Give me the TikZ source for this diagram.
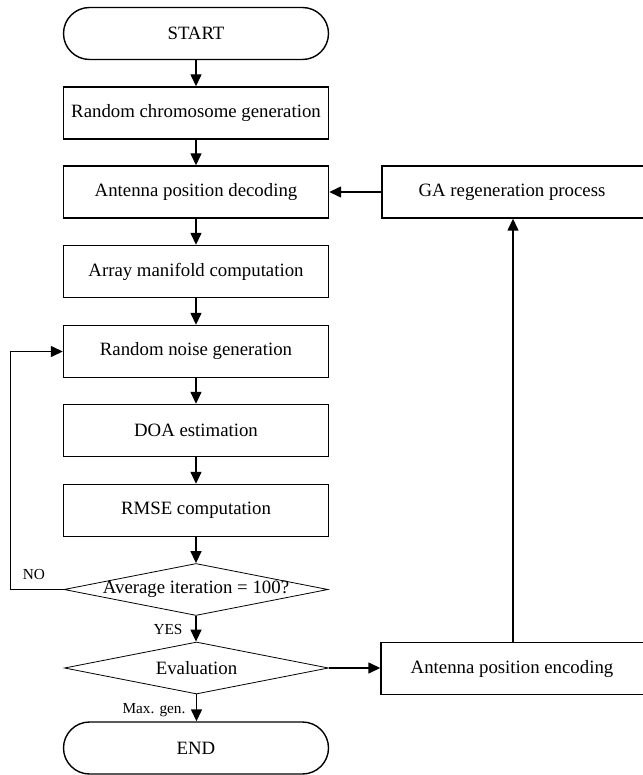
\documentclass[tikz,border=0pt]{standalone}
\usepackage{fontspec}
\setmainfont{Liberation Serif}
\usetikzlibrary{arrows.meta,shapes.geometric}
\begin{document}
\begin{tikzpicture}[x=1pt,y=-1pt,
  txtfont/.style={font=\fontsize{18.8}{22}\selectfont},
  box/.style={draw,line width=1.4pt,minimum width=265pt,minimum height=52pt,inner sep=0pt,txtfont},
  pill/.style={box,rounded corners=26pt},
  dia/.style={draw,line width=0.8pt,diamond,minimum width=264pt,minimum height=52pt,inner sep=0pt},
  diatext/.style={inner sep=0pt,txtfont},
  arr/.style={line width=1.4pt,-{Triangle[length=12pt,width=11pt]}},
  lab/.style={inner sep=0pt,font=\fontsize{15.3}{18}\selectfont}]
\useasboundingbox (0,0) rectangle (642,775);
\node[pill] (start) at (196,33.5) {START};
\node[box] (b1) at (196,113) {Random chromosome generation};
\node[box] (b2) at (196,192) {Antenna position decoding};
\node[box] (b3) at (196,271.5) {Array manifold computation};
\node[box] (b4) at (196,351.5) {Random noise generation};
\node[box] (b5) at (196,430.5) {DOA estimation};
\node[box] (b6) at (196,510.5) {RMSE computation};
\node[dia] (d1) at (196,589.5) {};
\node[diatext] (d1t) at (d1.center) {Average iteration = 100?};
\node[dia] (d2) at (196.5,668) {};
\node[diatext] (d2t) at (d2.center) {Evaluation};
\node[pill] (end) at (196,748) {END};
\node[box,minimum width=318pt] (ga) at (541,192) {};
\node[diatext] (gat) at (512,192) {GA regeneration process};
\node[box,minimum width=319pt] (enc) at (540.5,668.5) {};
\node[diatext] (enct) at (512,668.5) {Antenna position encoding};
\coordinate (upx) at (513,0);
\node[lab] (no) at (34,575) {NO};
\node[lab] (yes) at (168,630) {YES};
\node[lab] (maxg) at (154,710) {Max. gen.};
\draw[arr] (start.south) -- (b1.north);
\draw[arr] (b1.south) -- (b2.north);
\draw[arr] (b2.south) -- (b3.north);
\draw[arr] (b3.south) -- (b4.north);
\draw[arr] (b4.south) -- (b5.north);
\draw[arr] (b5.south) -- (b6.north);
\draw[arr] (b6.south) -- (d1.north);
\draw[arr] (d1.south) -- (d1.south |- d2.north);
\draw[arr] (d2.south) -- (d2.south |- end.north);
\draw[arr] (d1.west) -- ++(-53,0) |- (b4.west);
\draw[arr] (d2.east) -- (d2.east -| enc.west);
\draw[arr] (enc.north -| upx) -- (ga.south -| upx);
\draw[arr] (ga.west) -- (ga.west -| b2.east);
\end{tikzpicture}
\end{document}
